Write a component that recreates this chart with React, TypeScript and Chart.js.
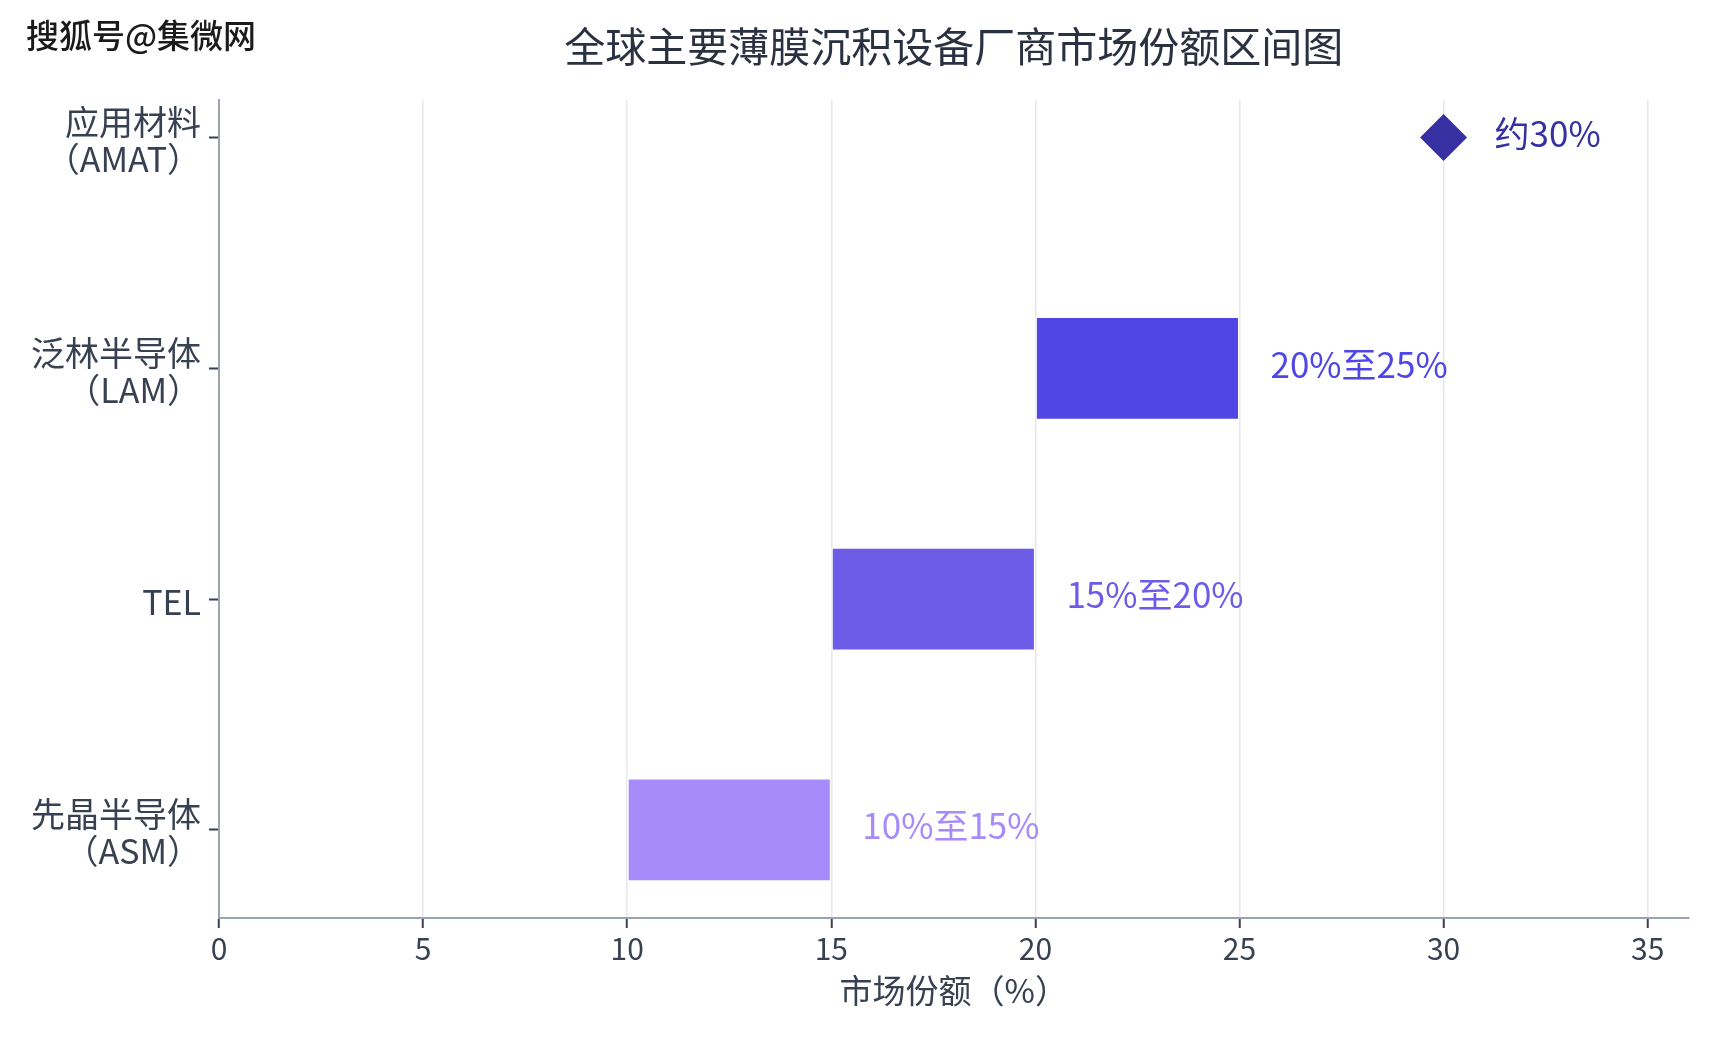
import { useEffect, useRef } from "react";
import { Chart, registerables } from "chart.js";

Chart.register(...registerables);

// categories from top to bottom, each label split in lines
const companies = [
    ["应用材料", "（AMAT）"],
    ["泛林半导体", "（LAM）"],
    ["TEL"],
    ["先晶半导体", "（ASM）"]
];
// share range (%) for the bar companies, null where only a point is known
const shareLow = [null, 20, 15, 10];
const shareHigh = [null, 25, 20, 15];
// single estimate (%)
const sharePoint = [30, null, null, null];
const xTicks = [0, 5, 10, 15, 20, 25, 30, 35];

const barColors = ["#3730a3", "#4f46e5", "#6c5ce7", "#a78bfa"];
const FONT = '"Noto Sans CJK SC", "Noto Sans", sans-serif';
const TEXT = "#374151";

const titlePlugin = {
    id: "titleAndMark",
    afterDraw(chart: any) {
        const { ctx, chartArea } = chart;
        ctx.save();
        ctx.textBaseline = "middle";
        ctx.textAlign = "center";
        ctx.fillStyle = "#2a3140";
        ctx.font = `41px ${FONT}`;
        ctx.fillText("全球主要薄膜沉积设备厂商市场份额区间图", (chartArea.left + chartArea.right) / 2, 38);
        // watermark
        ctx.textAlign = "left";
        ctx.font = `500 33px ${FONT}`;
        ctx.shadowColor = "rgba(255,255,255,1)";
        ctx.shadowOffsetX = 1.5;
        ctx.shadowOffsetY = 1.5;
        ctx.fillStyle = "#1b1b1b";
        ctx.fillText("搜狐号@集微网", 18, 27);
        ctx.restore();
    }
};

const valueLabels = {
    id: "valueLabels",
    afterDatasetsDraw(chart: any) {
        const { ctx } = chart;
        const xs = chart.scales.x;
        const ys = chart.scales.y;
        ctx.save();
        ctx.font = `35px ${FONT}`;
        ctx.textAlign = "left";
        ctx.textBaseline = "middle";
        companies.forEach((_, i) => {
            const y = ys.getPixelForValue(i) - 4;
            ctx.fillStyle = barColors[i];
            if (shareHigh[i] != null) {
                ctx.fillText(`${shareLow[i]}%至${shareHigh[i]}%`, xs.getPixelForValue(shareHigh[i]) + 31, y);
            } else if (sharePoint[i] != null) {
                ctx.fillText(`约${sharePoint[i]}%`, xs.getPixelForValue(sharePoint[i]) + 51, y);
            }
        });
        ctx.restore();
    }
};

const App = () => {
    const chartRef = useRef<HTMLCanvasElement>(null);

    useEffect(() => {
        if (!chartRef.current) return;
        Chart.defaults.font.family = FONT;

        const barData: any[] = [];
        const barBg: string[] = [];
        companies.forEach((_, i) => {
            if (shareLow[i] != null) {
                barData.push({ y: i, x: [shareLow[i], shareHigh[i]] });
                barBg.push(barColors[i]);
            }
        });
        const pointData: any[] = [];
        companies.forEach((_, i) => {
            if (sharePoint[i] != null) pointData.push({ y: i, x: sharePoint[i] });
        });

        const chartInstance = new Chart(chartRef.current, {
            type: "bar",
            data: {
                datasets: [
                    {
                        type: "bar",
                        data: barData,
                        backgroundColor: barBg,
                        borderColor: "#ffffff",
                        borderWidth: 1.5,
                        borderSkipped: false,
                        barPercentage: 0.45,
                        categoryPercentage: 1
                    } as any,
                    {
                        type: "scatter",
                        data: pointData,
                        pointStyle: "rectRot",
                        pointRadius: 23.5,
                        pointBackgroundColor: "#3730a3",
                        pointBorderWidth: 0
                    } as any
                ]
            },
            options: {
                indexAxis: "y",
                animation: false,
                responsive: true,
                maintainAspectRatio: false,
                layout: { padding: { top: 92, right: 21, left: 0, bottom: 0 } },
                plugins: {
                    legend: { display: false },
                    tooltip: { enabled: false },
                    title: { display: false }
                },
                scales: {
                    x: {
                        type: "linear",
                        min: 0,
                        max: 36,
                        offset: false,
                        afterBuildTicks: (scale: any) => {
                            scale.ticks = xTicks.map((v) => ({ value: v }));
                        },
                        afterFit: (scale: any) => {
                            scale.height = 114;
                        },
                        grid: {
                            offset: false,
                            color: "#e5e7eb",
                            lineWidth: 1.5,
                            tickColor: TEXT,
                            tickLength: 10,
                            tickWidth: 2
                        },
                        border: { color: "#9ca3af", width: 2 },
                        ticks: { color: TEXT, font: { size: 30 }, padding: 3 },
                        title: {
                            display: true,
                            text: "市场份额（%）",
                            color: TEXT,
                            font: { size: 33 },
                            padding: { top: 4, bottom: 22 }
                        }
                    },
                    y: {
                        type: "linear",
                        reverse: true,
                        offset: false,
                        min: -0.163,
                        max: 3.382,
                        afterBuildTicks: (scale: any) => {
                            scale.ticks = companies.map((_, i) => ({ value: i }));
                        },
                        afterFit: (scale: any) => {
                            scale.width = 211;
                        },
                        grid: {
                            offset: false,
                            drawOnChartArea: false,
                            tickColor: TEXT,
                            tickLength: 10,
                            tickWidth: 2
                        },
                        border: { color: "#9ca3af", width: 2 },
                        ticks: {
                            color: TEXT,
                            font: { size: 34, lineHeight: 1.1 },
                            padding: 8,
                            labelOffset: 3,
                            callback: (v: any) => companies[v] as any
                        }
                    }
                }
            },
            plugins: [titlePlugin, valueLabels]
        });

        return () => {
            chartInstance.destroy();
        };
    }, []);

    return (
        <div style={{ width: 1704, height: 1024, position: "relative" }}>
            <canvas ref={chartRef} />
        </div>
    );
};

export default App;
